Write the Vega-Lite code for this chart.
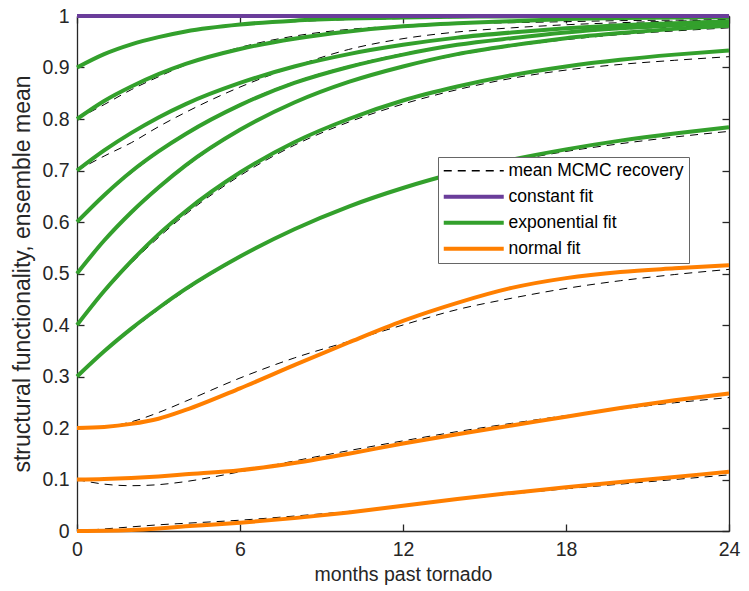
{
  "$schema": "https://vega.github.io/schema/vega-lite/v6.json",
  "width": 652,
  "height": 515,
  "autosize": {"type": "none"},
  "padding": {"left": 77, "top": 16, "right": 20, "bottom": 60},
  "config": {
    "view": {"stroke": null},
    "font": "Liberation Sans",
    "axis": {
      "grid": false,
      "domainColor": "#262626",
      "domainWidth": 1.3,
      "tickColor": "#262626",
      "tickWidth": 1.3,
      "tickSize": -7,
      "labelColor": "#262626",
      "titleColor": "#262626",
      "labelFontSize": 19.5,
      "titleFontWeight": "normal",
      "labelFlush": false
    }
  },
  "data": {
    "values": [
      {"t": 0, "k1": 1, "g9": 0.9, "g8": 0.8, "g7": 0.7, "g6": 0.6, "g5": 0.5, "g4": 0.4, "g3": 0.3, "n2": 0.2, "n1": 0.1, "n0": 0, "d9": 0.9, "d8": 0.8, "d7": 0.7, "d6": 0.6, "d5": 0.5, "d4": 0.4, "d3": 0.3, "d2": 0.2, "d1": 0.1, "d0": 0},
      {"t": 1, "k1": 1, "g9": 0.926, "g8": 0.835, "g7": 0.739, "g6": 0.652, "g5": 0.564, "g4": 0.466, "g3": 0.349, "n2": 0.202, "n1": 0.101, "n0": 0.0005, "d9": 0.925, "d8": 0.828, "d7": 0.728, "d6": 0.65, "d5": 0.562, "d4": 0.463, "d3": 0.347, "d2": 0.202, "d1": 0.091, "d0": 0.004},
      {"t": 2, "k1": 1, "g9": 0.945, "g8": 0.863, "g7": 0.773, "g6": 0.698, "g5": 0.619, "g4": 0.524, "g3": 0.393, "n2": 0.208, "n1": 0.103, "n0": 0.002, "d9": 0.944, "d8": 0.857, "d7": 0.754, "d6": 0.695, "d5": 0.616, "d4": 0.52, "d3": 0.39, "d2": 0.212, "d1": 0.088, "d0": 0.008},
      {"t": 3, "k1": 1, "g9": 0.959, "g8": 0.887, "g7": 0.803, "g6": 0.737, "g5": 0.667, "g4": 0.576, "g3": 0.433, "n2": 0.218, "n1": 0.106, "n0": 0.005, "d9": 0.958, "d8": 0.882, "d7": 0.785, "d6": 0.735, "d5": 0.664, "d4": 0.57, "d3": 0.43, "d2": 0.23, "d1": 0.09, "d0": 0.012},
      {"t": 4, "k1": 1, "g9": 0.97, "g8": 0.907, "g7": 0.829, "g6": 0.771, "g5": 0.71, "g4": 0.621, "g3": 0.47, "n2": 0.235, "n1": 0.11, "n0": 0.009, "d9": 0.969, "d8": 0.905, "d7": 0.813, "d6": 0.77, "d5": 0.707, "d4": 0.615, "d3": 0.467, "d2": 0.252, "d1": 0.096, "d0": 0.015},
      {"t": 6, "k1": 1, "g9": 0.9835, "g8": 0.936, "g7": 0.87, "g6": 0.827, "g5": 0.779, "g4": 0.696, "g3": 0.533, "n2": 0.277, "n1": 0.118, "n0": 0.016, "d9": 0.982, "d8": 0.939, "d7": 0.862, "d6": 0.829, "d5": 0.777, "d4": 0.69, "d3": 0.531, "d2": 0.297, "d1": 0.115, "d0": 0.021},
      {"t": 8, "k1": 1, "g9": 0.9909, "g8": 0.956, "g7": 0.902, "g6": 0.87, "g5": 0.832, "g4": 0.755, "g3": 0.586, "n2": 0.322, "n1": 0.132, "n0": 0.025, "d9": 0.989, "d8": 0.961, "d7": 0.902, "d6": 0.872, "d5": 0.831, "d4": 0.749, "d3": 0.585, "d2": 0.336, "d1": 0.136, "d0": 0.029},
      {"t": 10, "k1": 1, "g9": 0.995, "g8": 0.97, "g7": 0.926, "g6": 0.901, "g5": 0.872, "g4": 0.8, "g3": 0.63, "n2": 0.366, "n1": 0.15, "n0": 0.036, "d9": 0.993, "d8": 0.974, "d7": 0.935, "d6": 0.903, "d5": 0.871, "d4": 0.794, "d3": 0.629, "d2": 0.368, "d1": 0.156, "d0": 0.038},
      {"t": 12, "k1": 1, "g9": 0.9973, "g8": 0.98, "g7": 0.944, "g6": 0.925, "g5": 0.902, "g4": 0.836, "g3": 0.666, "n2": 0.408, "n1": 0.17, "n0": 0.049, "d9": 0.995, "d8": 0.981, "d7": 0.956, "d6": 0.927, "d5": 0.901, "d4": 0.829, "d3": 0.665, "d2": 0.4, "d1": 0.175, "d0": 0.049},
      {"t": 14, "k1": 1, "g9": 0.9985, "g8": 0.986, "g7": 0.958, "g6": 0.944, "g5": 0.926, "g4": 0.863, "g3": 0.696, "n2": 0.443, "n1": 0.188, "n0": 0.062, "d9": 0.997, "d8": 0.985, "d7": 0.969, "d6": 0.945, "d5": 0.924, "d4": 0.857, "d3": 0.694, "d2": 0.43, "d1": 0.193, "d0": 0.061},
      {"t": 16, "k1": 1, "g9": 0.9992, "g8": 0.99, "g7": 0.968, "g6": 0.957, "g5": 0.943, "g4": 0.885, "g3": 0.721, "n2": 0.472, "n1": 0.205, "n0": 0.074, "d9": 0.998, "d8": 0.987, "d7": 0.977, "d6": 0.958, "d5": 0.941, "d4": 0.879, "d3": 0.718, "d2": 0.452, "d1": 0.209, "d0": 0.072},
      {"t": 18, "k1": 1, "g9": 0.9995, "g8": 0.994, "g7": 0.976, "g6": 0.968, "g5": 0.957, "g4": 0.902, "g3": 0.741, "n2": 0.491, "n1": 0.222, "n0": 0.085, "d9": 0.998, "d8": 0.989, "d7": 0.983, "d6": 0.967, "d5": 0.954, "d4": 0.895, "d3": 0.737, "d2": 0.471, "d1": 0.224, "d0": 0.082},
      {"t": 20, "k1": 1, "g9": 0.9998, "g8": 0.996, "g7": 0.982, "g6": 0.976, "g5": 0.967, "g4": 0.915, "g3": 0.758, "n2": 0.503, "n1": 0.239, "n0": 0.095, "d9": 0.999, "d8": 0.991, "d7": 0.987, "d6": 0.974, "d5": 0.964, "d4": 0.906, "d3": 0.752, "d2": 0.486, "d1": 0.237, "d0": 0.091},
      {"t": 22, "k1": 1, "g9": 0.9999, "g8": 0.997, "g7": 0.986, "g6": 0.982, "g5": 0.975, "g4": 0.925, "g3": 0.772, "n2": 0.51, "n1": 0.254, "n0": 0.105, "d9": 0.999, "d8": 0.992, "d7": 0.99, "d6": 0.979, "d5": 0.971, "d4": 0.914, "d3": 0.765, "d2": 0.498, "d1": 0.249, "d0": 0.1},
      {"t": 24, "k1": 1, "g9": 0.9999, "g8": 0.998, "g7": 0.99, "g6": 0.986, "g5": 0.981, "g4": 0.933, "g3": 0.784, "n2": 0.516, "n1": 0.267, "n0": 0.115, "d9": 0.999, "d8": 0.993, "d7": 0.992, "d6": 0.983, "d5": 0.977, "d4": 0.921, "d3": 0.776, "d2": 0.508, "d1": 0.259, "d0": 0.109}
    ]
  },
  "layer": [
    {
      "transform": [{"fold": ["d9", "d8", "d7", "d6", "d5", "d4", "d3", "d2", "d1", "d0"], "as": ["curve", "v"]}],
      "mark": {"type": "line", "interpolate": "monotone", "strokeWidth": 1, "strokeDash": [8, 6], "clip": false},
      "encoding": {
        "x": {"field": "t", "type": "quantitative", "scale": {"domain": [0, 24], "nice": false},
          "axis": {"orient": "bottom", "values": [0, 6, 12, 18, 24], "title": "months past tornado", "titleFontSize": 19.5, "labelPadding": 16, "titlePadding": 7}},
        "y": {"field": "v", "type": "quantitative", "scale": {"domain": [0, 1], "nice": false, "zero": false},
          "axis": {"orient": "left", "values": [0, 0.1, 0.2, 0.3, 0.4, 0.5, 0.6, 0.7, 0.8, 0.9, 1], "format": ".1~f", "title": "structural functionality, ensemble mean", "titleFontSize": 23, "labelPadding": 15, "titlePadding": 7}},
        "detail": {"field": "curve", "type": "nominal"},
        "color": {"datum": "mean MCMC recovery", "type": "nominal",
          "scale": {"domain": ["mean MCMC recovery", "constant fit", "exponential fit", "normal fit"], "range": ["#000000", "#6a3d9a", "#33a02c", "#ff7f00"]},
          "legend": {
            "title": null, "orient": "none", "legendX": 361, "legendY": 141,
            "symbolType": "M-5,0H5", "symbolSize": 144, "symbolStrokeWidth": 4,
            "symbolOffset": 22, "rowPadding": 7, "padding": 5,
            "labelFontSize": 17.5, "labelOffset": 26, "labelColor": "#000000", "labelLimit": 400,
            "strokeColor": "#666666", "fillColor": "#ffffff",
            "encode": {"symbols": {"update": {
              "fill": {"value": "transparent"},
              "strokeWidth": {"signal": "datum.value === 'mean MCMC recovery' ? 1.3 : 4"},
              "strokeDash": {"signal": "datum.value === 'mean MCMC recovery' ? [8, 6] : [1, 0]"},
              "stroke": {"signal": "datum.value === 'mean MCMC recovery' ? '#555555' : scale('color', datum.value)"}
            }}}
          }}
      }
    },
    {
      "transform": [{"fold": ["g9", "g8", "g7", "g6", "g5", "g4", "g3"], "as": ["curve", "v"]}],
      "mark": {"type": "line", "interpolate": "monotone", "strokeWidth": 4, "clip": false},
      "encoding": {
        "x": {"field": "t", "type": "quantitative", "axis": null},
        "y": {"field": "v", "type": "quantitative", "axis": null},
        "detail": {"field": "curve", "type": "nominal"},
        "color": {"datum": "exponential fit", "type": "nominal"}
      }
    },
    {
      "transform": [{"fold": ["n2", "n1", "n0"], "as": ["curve", "v"]}],
      "mark": {"type": "line", "interpolate": "monotone", "strokeWidth": 4, "clip": false},
      "encoding": {
        "x": {"field": "t", "type": "quantitative", "axis": null},
        "y": {"field": "v", "type": "quantitative", "axis": null},
        "detail": {"field": "curve", "type": "nominal"},
        "color": {"datum": "normal fit", "type": "nominal"}
      }
    },
    {
      "transform": [{"fold": ["k1"], "as": ["curve", "v"]}],
      "mark": {"type": "line", "interpolate": "monotone", "strokeWidth": 4, "clip": false},
      "encoding": {
        "x": {"field": "t", "type": "quantitative",
          "axis": {"orient": "top", "values": [0, 6, 12, 18, 24], "labels": false, "title": null}},
        "y": {"field": "v", "type": "quantitative",
          "axis": {"orient": "right", "values": [0, 0.1, 0.2, 0.3, 0.4, 0.5, 0.6, 0.7, 0.8, 0.9, 1], "labels": false, "title": null}},
        "detail": {"field": "curve", "type": "nominal"},
        "color": {"datum": "constant fit", "type": "nominal"}
      }
    }
  ],
  "resolve": {"axis": {"x": "independent", "y": "independent"}}
}
